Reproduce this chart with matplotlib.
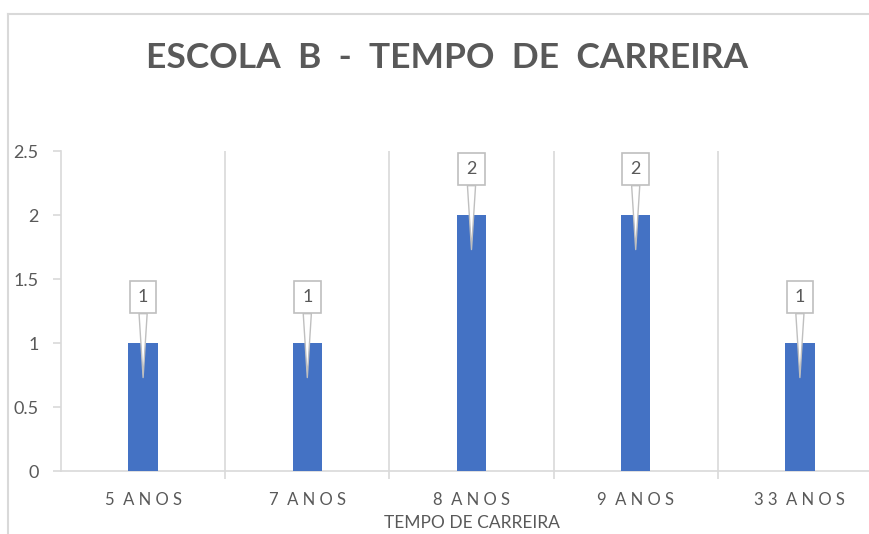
import matplotlib.pyplot as plt
from matplotlib.lines import Line2D
import numpy as np

categories = ["5 ANOS", "7 ANOS", "8 ANOS", "9 ANOS", "33 ANOS"]
counts = [1, 1, 2, 2, 1]
y_ticks = [0, 0.5, 1, 1.5, 2, 2.5]
y_tick_labels = ["0", "0.5", "1", "1.5", "2", "2.5"]

title = "ESCOLA B - TEMPO DE CARREIRA"
x_label = "TEMPO DE CARREIRA"

text_gray = "#595959"
grid_gray = "#d9d9d9"
bar_blue = "#4472c4"

plt.rcParams['font.family'] = ['Lato', 'DejaVu Sans']


def spaced(s):
    # mimic the wide letter spacing of the category labels
    return "  ".join(" ".join(w) for w in s.split(" "))


fig = plt.figure(figsize=(8.7, 5.34), dpi=100)
ax = fig.add_axes([61 / 870, 1 - 471 / 534, (882 - 61) / 870, 320 / 534])

x = np.arange(len(categories))
ax.bar(x, counts, width=0.18, color=bar_blue, zorder=3)

ax.set_xlim(-0.5, len(categories) - 0.5)
ax.set_ylim(0, 2.5)

# category gridlines between the groups
ax.set_xticks(x)
ax.set_xticklabels([spaced(c) for c in categories], fontsize=12, color=text_gray)
ax.set_xticks(np.arange(0.5, len(categories) - 0.5, 1), minor=True)
ax.grid(True, which='minor', axis='x', color=grid_gray, linewidth=1.2, zorder=0)
ax.tick_params(axis='x', which='major', length=0, pad=15)
ax.tick_params(axis='x', which='minor', length=6, color=grid_gray, width=1.2)

ax.set_yticks(y_ticks)
ax.set_yticklabels(y_tick_labels, fontsize=13, color=text_gray)
ax.tick_params(axis='y', length=6, color=grid_gray, width=1.2, pad=10)

for side in ['top', 'right']:
    ax.spines[side].set_visible(False)
for side in ['left', 'bottom']:
    ax.spines[side].set_color(grid_gray)
    ax.spines[side].set_linewidth(1.2)

ax.set_xlabel(x_label, fontsize=12.5, color=text_gray, labelpad=5)

# callout data labels
for xi, v in zip(x, counts):
    ax.annotate(str(v), xy=(xi, v - 0.27), xytext=(xi, v + 0.36),
                ha='center', va='center', fontsize=13, color=text_gray, zorder=5,
                bbox=dict(boxstyle="square,pad=0.45", fc="white", ec="#bfbfbf", lw=1.2),
                arrowprops=dict(arrowstyle="wedge,tail_width=0.45,shrink_factor=0.5",
                                fc="white", ec="#bfbfbf", lw=1.0, shrinkA=0, shrinkB=0))

fig.text(447 / 870, 1 - 58 / 534, "  ".join(title.split(" ")), ha='center', va='center',
         fontsize=25.5, fontweight='bold', color=text_gray)

# chart area border
fig.add_artist(Line2D([8 / 870, 8 / 870], [0, 1 - 14 / 534], transform=fig.transFigure,
                      color=grid_gray, linewidth=1.5))
fig.add_artist(Line2D([8 / 870, 1], [1 - 14 / 534, 1 - 14 / 534], transform=fig.transFigure,
                      color=grid_gray, linewidth=1.5))

fig.savefig("out.png", dpi=100)
